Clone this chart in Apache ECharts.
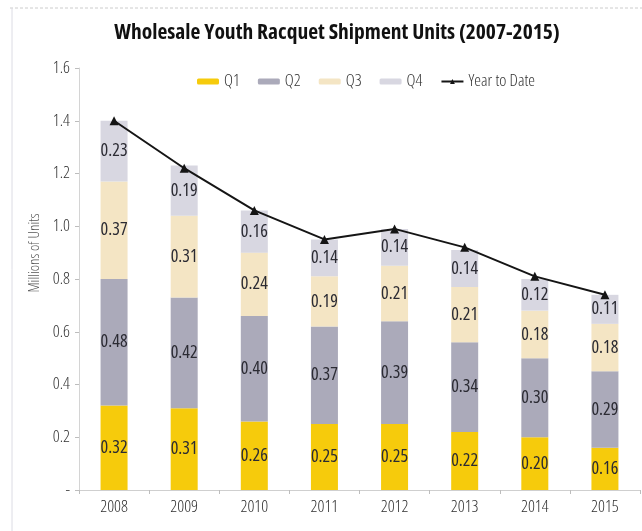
<!DOCTYPE html>
<html>
<head>
<meta charset="utf-8">
<script src="https://cdn.jsdelivr.net/npm/echarts@6/dist/echarts.min.js"></script>
<style>
  html, body { margin: 0; padding: 0; background: #ffffff; }
  #chart { width: 642px; height: 531px; }
</style>
</head>
<body>
<div id="chart"></div>
<script>
// Shipment units by quarter, in millions
const years = ['2008', '2009', '2010', '2011', '2012', '2013', '2014', '2015'];
const q1 = [0.32, 0.31, 0.26, 0.25, 0.25, 0.22, 0.20, 0.16];
const q2 = [0.48, 0.42, 0.40, 0.37, 0.39, 0.34, 0.30, 0.29];
const q3 = [0.37, 0.31, 0.24, 0.19, 0.21, 0.21, 0.18, 0.18];
const q4 = [0.23, 0.19, 0.16, 0.14, 0.14, 0.14, 0.12, 0.11];
// Year-to-date totals (line) and the totals printed above each year
const ytd = [1.40, 1.22, 1.06, 0.95, 0.99, 0.92, 0.81, 0.74];
const ytdLabels = [1.40, 1.22, 1.06, 0.95, 0.99, 0.92, 0.81, 0.81];
const yTicks = [0, 0.2, 0.4, 0.6, 0.8, 1.0, 1.2, 1.4, 1.6];

// Open Sans at its condensed width (font-stretch keyword goes into the font string)
const FONT = '"Open Sans", sans-serif';
const STRETCH = 'condensed';

const chart = echarts.init(document.getElementById('chart'), null, { renderer: 'canvas' });

function quarterBar(name, data, color) {
  return {
    name: name,
    type: 'bar',
    stack: 'q',
    data: data,
    barWidth: 27,
    itemStyle: { color: color },
    label: {
      show: true,
      position: 'inside',
      color: '#2b2b33',
      fontFamily: FONT,
      fontStyle: STRETCH,
      fontSize: 18,
      formatter: p => p.value.toFixed(2)
    },
    emphasis: { disabled: true }
  };
}

chart.setOption({
  backgroundColor: '#ffffff',
  animation: false,
  title: {
    text: 'Wholesale Youth Racquet Shipment Units (2007-2015)',
    left: 332,
    textAlign: 'center',
    top: 17,
    textStyle: { fontFamily: FONT, fontStyle: STRETCH, fontSize: 21.5, fontWeight: 'bold', color: '#111111' }
  },
  legend: {
    data: ['Q1', 'Q2', 'Q3', 'Q4', 'Year to Date'],
    left: 192,
    top: 68,
    itemWidth: 22,
    itemHeight: 6,
    itemGap: 18,
    textStyle: { fontFamily: FONT, fontStyle: STRETCH, fontWeight: 300, fontSize: 17, color: '#333333' }
  },
  grid: { left: 79, right: 2, top: 68, bottom: 41, containLabel: false },
  xAxis: {
    type: 'category',
    data: years,
    axisLine: { lineStyle: { color: '#cfcfcf' } },
    axisTick: { show: true, length: 4, lineStyle: { color: '#bdbdbd' } },
    axisLabel: { fontFamily: FONT, fontStyle: STRETCH, fontWeight: 300, fontSize: 17, color: '#2f2f2f', margin: 9 }
  },
  yAxis: {
    type: 'value',
    min: 0,
    max: 1.6,
    interval: 0.2,
    splitLine: { show: false },
    axisLine: { show: true, lineStyle: { color: '#d4d4d4' } },
    axisTick: { show: true, length: 4, lineStyle: { color: '#bdbdbd' } },
    axisLabel: {
      fontFamily: FONT,
      fontStyle: STRETCH,
      fontWeight: 300,
      fontSize: 17,
      color: '#333333',
      margin: 9,
      customValues: yTicks,
      formatter: v => (v === 0 ? '-' : v.toFixed(1))
    }
  },
  graphic: [
    { type: 'line', shape: { x1: 10, y1: 8, x2: 642, y2: 8 },
      style: { stroke: '#cccccc', lineWidth: 1, lineDash: [3, 2] }, silent: true },
    { type: 'line', shape: { x1: 12, y1: 8, x2: 12, y2: 531 },
      style: { stroke: '#dcdce4', lineWidth: 1 }, silent: true },
    { type: 'text', x: 35, y: 253, rotation: Math.PI / 2,
      style: { text: 'Millions of Units', font: 'condensed 300 15px "Open Sans", sans-serif', fill: '#555555',
               textAlign: 'center', textVerticalAlign: 'middle' }, silent: true }
  ],
  series: [
    quarterBar('Q1', q1, '#f6cb0c'),
    quarterBar('Q2', q2, '#abaaba'),
    quarterBar('Q3', q3, '#f4e5c4'),
    quarterBar('Q4', q4, '#d8d7e1'),
    {
      name: 'Year to Date',
      type: 'line',
      data: ytd,
      symbol: 'triangle',
      symbolSize: 9,
      lineStyle: { color: '#151515', width: 2 },
      itemStyle: { color: '#151515' },
      z: 5,
      emphasis: { disabled: true }
    },
    {
      name: 'Total',
      type: 'scatter',
      data: ytdLabels,
      symbolSize: 1,
      itemStyle: { opacity: 0 },
      label: {
        show: true,
        position: 'top',
        distance: 11,
        color: '#3a3a3a',
        fontFamily: FONT,
        fontStyle: STRETCH,
        fontWeight: 300,
        fontSize: 17,
        formatter: p => p.value.toFixed(2)
      },
      z: 6,
      silent: true
    }
  ]
});
</script>
</body>
</html>
